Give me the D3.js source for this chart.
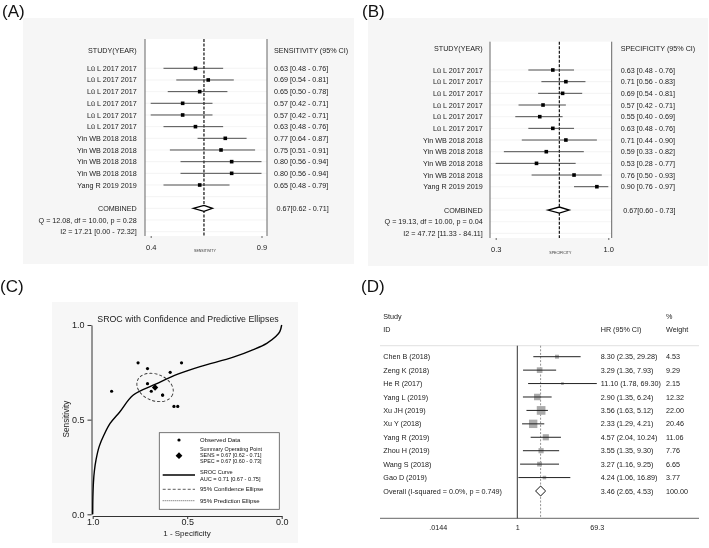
<!DOCTYPE html>
<html><head><meta charset="utf-8">
<script src="https://cdn.jsdelivr.net/npm/d3@7"></script>
<style>body{margin:0;background:#fff}svg{display:block;will-change:transform}text{font-family:"Liberation Sans",Arial,sans-serif}</style>
</head><body><svg id="c" width="709" height="548"></svg>
<script>
// ---------------- DATA ----------------
const studiesAB = ["Lü L 2017 2017","Lü L 2017 2017","Lü L 2017 2017","Lü L 2017 2017","Lü L 2017 2017","Lü L 2017 2017",
  "Yin WB 2018 2018","Yin WB 2018 2018","Yin WB 2018 2018","Yin WB 2018 2018","Yang R 2019 2019"];
const sensEst = [0.63,0.69,0.65,0.57,0.57,0.63,0.77,0.75,0.80,0.80,0.65];
const sensLo  = [0.48,0.54,0.50,0.42,0.42,0.48,0.64,0.51,0.56,0.56,0.48];
const sensHi  = [0.76,0.81,0.78,0.71,0.71,0.76,0.87,0.91,0.94,0.94,0.79];
const specEst = [0.63,0.71,0.69,0.57,0.55,0.63,0.71,0.59,0.53,0.76,0.90];
const specLo  = [0.48,0.56,0.54,0.42,0.40,0.48,0.44,0.33,0.28,0.50,0.76];
const specHi  = [0.76,0.83,0.81,0.71,0.69,0.76,0.90,0.82,0.77,0.93,0.97];
const pooledSens = [0.67,0.62,0.71];
const pooledSpec = [0.67,0.60,0.73];
const statsSens = ["Q = 12.08, df = 10.00, p =  0.28","I2 = 17.21 [0.00 - 72.32]"];
const statsSpec = ["Q = 19.13, df = 10.00, p =  0.04","I2 = 47.72 [11.33 - 84.11]"];
const ticksSens = [0.42,0.94];
const ticksSpec = [0.28,0.97];

// SROC (specificity, sensitivity)
const srocCurve = [[1.0,0.0],[0.999,0.09],[0.996,0.17],[0.991,0.23],[0.982,0.29],[0.965,0.36],[0.94,0.42],[0.908,0.48],
  [0.856,0.542],[0.785,0.63],[0.661,0.69],[0.55,0.74],[0.432,0.78],[0.256,0.83],[0.15,0.87],[0.079,0.903],[0.03,0.94],[0.01,0.965],[0.0,1.0]];
const summaryPoint = [0.67,0.67];
const confEllipse = {spec:0.67, sens:0.67, a:0.10, b:0.07, angle:22};
const cTicks = [0,0.5,1];
const legendC = [["Observed Data"],["Summary Operating Point","SENS = 0.67 [0.62 - 0.71]","SPEC = 0.67 [0.60 - 0.73]"],
  ["SROC Curve","AUC = 0.71 [0.67 - 0.75]"],["95% Confidence Ellipse"],["95% Prediction Ellipse"]];

const studiesD = ["Chen B (2018)","Zeng K (2018)","He R (2017)","Yang L (2019)","Xu JH (2019)","Xu Y (2018)","Yang R (2019)","Zhou H (2019)","Wang S (2018)","Gao D (2019)"];
const hrD = [8.30,3.29,11.10,2.90,3.56,2.33,4.57,3.55,3.27,4.24];
const loD = [2.35,1.36,1.78,1.35,1.63,1.29,2.04,1.35,1.16,1.06];
const hiD = [29.28,7.93,69.30,6.24,5.12,4.21,10.24,9.30,9.25,16.89];
const weightD = [4.53,9.29,2.15,12.32,22.00,20.46,11.06,7.76,6.65,3.77];
const overallD = [3.46,2.65,4.53];
const overallLabel = "Overall  (I-squared = 0.0%, p = 0.749)";
const tickValuesD = [0.0144,1,69.3];
const tickLabelsD = [".0144","1","69.3"];

// ---------------- DRAW ----------------
const svg = d3.select("#c");
const f2 = d3.format(".2f");
const FS = 7.2;

function txt(g,x,y,s,opt={}){
  return g.append("text").attr("x",x).attr("y",y).attr("dy","0.35em")
    .attr("font-size",opt.size||FS).attr("text-anchor",opt.anchor||"start").attr("fill",opt.fill||"#1a1a1a").text(s);
}

function forest(o){
  const g = svg.append("g");
  g.append("rect").attr("x",o.bg[0]).attr("y",o.bg[1]).attr("width",o.bg[2]).attr("height",o.bg[3]).attr("fill","#f6f6f6");
  g.append("rect").attr("x",o.px0).attr("y",o.py0).attr("width",o.px1-o.px0).attr("height",o.py1-o.py0).attr("fill","#fff");
  const x = d3.scaleLinear().domain([o.ticks[0],o.ticks[1]]).range(o.xRange);
  const y = d3.scaleLinear().domain([0,1]).range([o.y0,o.y0+o.gap]);
  g.selectAll("line.grid").data(d3.range(15)).join("line").attr("class","grid")
    .attr("x1",o.px0).attr("x2",o.px1).attr("y1",d=>y(d)).attr("y2",d=>y(d)).attr("stroke","#efefef").attr("stroke-width",0.7);
  [o.px0,o.px1].forEach(xx=>g.append("line").attr("x1",xx).attr("x2",xx).attr("y1",o.py0).attr("y2",o.py1).attr("stroke","#666").attr("stroke-width",1));
  g.append("line").attr("x1",x(o.pooled[0])).attr("x2",x(o.pooled[0])).attr("y1",o.py0).attr("y2",o.py1)
    .attr("stroke","#111").attr("stroke-width",1.2).attr("stroke-dasharray","3,1.5");
  const idx = d3.range(o.est.length);
  g.selectAll("line.ci").data(idx).join("line").attr("class","ci")
    .attr("x1",i=>x(o.lo[i])).attr("x2",i=>x(o.hi[i])).attr("y1",i=>y(i)).attr("y2",i=>y(i))
    .attr("stroke","#3c3c3c").attr("stroke-width",0.9);
  g.selectAll("rect.pt").data(idx).join("rect").attr("class","pt")
    .attr("x",i=>x(o.est[i])-1.8).attr("y",i=>y(i)-1.8).attr("width",3.6).attr("height",3.6).attr("fill","#000");
  idx.forEach(i=>{
    txt(g,o.labelX,y(i),o.labels[i],{anchor:"end"});
    txt(g,o.valueX,y(i),`${f2(o.est[i])} [${f2(o.lo[i])} - ${f2(o.hi[i])}]`);
  });
  txt(g,o.labelX,y(o.headerRow),"STUDY(YEAR)",{anchor:"end"});
  txt(g,o.valueX,y(o.headerRow),o.header);
  const cy = y(12);
  g.append("path").attr("d",`M${x(o.pooled[1])},${cy}L${x(o.pooled[0])},${cy-3}L${x(o.pooled[2])},${cy}L${x(o.pooled[0])},${cy+3}Z`)
    .attr("fill","#fff").attr("stroke","#000").attr("stroke-width",1.3);
  txt(g,o.labelX,cy,"COMBINED",{anchor:"end"});
  txt(g,o.valueX+2.5,cy,`${f2(o.pooled[0])}[${f2(o.pooled[1])} - ${f2(o.pooled[2])}]`);
  txt(g,o.labelX,y(13),o.stats[0],{anchor:"end"});
  txt(g,o.labelX,y(14),o.stats[1],{anchor:"end"});
  const ax = g.append("g").attr("transform",`translate(0,${o.py1})`)
    .call(d3.axisBottom(x).tickValues(o.ticks).tickFormat(d3.format(".1f")).tickSize(2).tickSizeOuter(0));
  ax.select(".domain").remove();
  ax.selectAll("line").attr("stroke","#666");
  ax.selectAll("text").attr("font-size",7.5).attr("y",8.5).attr("fill","#1a1a1a").attr("font-family","Liberation Sans, Arial, sans-serif");
  g.append("text").attr("x",x(o.pooled[0])+1).attr("y",o.py1+16).attr("font-size",3.6).attr("text-anchor","middle").attr("fill","#333").text(o.axisTitle);
}

forest({bg:[23,18,331,246],px0:145,px1:267,py0:39,py1:236,xRange:[150.7,261.5],ticks:ticksSens,y0:68.3,gap:11.67,headerRow:-1.55,
  labelX:136.7,valueX:274,labels:studiesAB,est:sensEst,lo:sensLo,hi:sensHi,pooled:pooledSens,stats:statsSens,
  header:"SENSITIVITY (95% CI)",axisTitle:"SENSITIVITY"});
forest({bg:[368,18,340,248],px0:490,px1:611.7,py0:41.7,py1:238,xRange:[495.7,608.3],ticks:ticksSpec,y0:70,gap:11.67,headerRow:-1.86,
  labelX:482.7,valueX:620.7,labels:studiesAB,est:specEst,lo:specLo,hi:specHi,pooled:pooledSpec,stats:statsSpec,
  header:"SPECIFICITY (95% CI)",axisTitle:"SPECIFICITY"});

// panel labels
[["(A)",2,11],["(B)",362,11],["(C)",0,286],["(D)",361,286]].forEach(([s,x,y])=>
  svg.append("text").attr("x",x).attr("y",y).attr("dy","0.35em").attr("font-size",17).attr("font-family","Lato, 'Open Sans', sans-serif").attr("fill","#111").text(s));

// ---------- Panel C ----------
(function(){
  const g = svg.append("g");
  g.append("rect").attr("x",52).attr("y",302).attr("width",246).attr("height",241).attr("fill","#f7f7f7");
  const x = d3.scaleLinear().domain([1,0]).range([92.7,281.7]);
  const y = d3.scaleLinear().domain([0,1]).range([514.3,325]);
  const ya = g.append("g").attr("transform","translate(91.5,0)")
    .call(d3.axisLeft(y).tickValues(cTicks).tickFormat(d3.format(".1f")).tickSize(4).tickSizeOuter(0));
  const xa = g.append("g").attr("transform","translate(0,516)")
    .call(d3.axisBottom(x).tickValues(cTicks).tickFormat(d3.format(".1f")).tickSize(3).tickSizeOuter(0));
  [ya,xa].forEach(a=>{a.selectAll("path,line").attr("stroke","#333");
    a.selectAll("text").attr("font-size",9).attr("fill","#222").attr("font-family","Liberation Sans, Arial, sans-serif");});
  xa.selectAll("text").attr("y",3);
  g.append("text").attr("x",187).attr("y",533.5).attr("dy","0.35em").attr("font-size",8).attr("text-anchor","middle").attr("fill","#222").text("1 - Specificity");
  g.append("text").attr("transform","translate(66,419) rotate(-90)").attr("dy","0.35em").attr("font-size",8.2).attr("text-anchor","middle").attr("fill","#222").text("Sensitivity");
  g.append("text").attr("x",188).attr("y",318.5).attr("dy","0.35em").attr("font-size",8.8).attr("text-anchor","middle").attr("fill","#222").text("SROC with Confidence and Predictive Ellipses");
  // ellipse
  const e = confEllipse;
  const cx = x(e.spec), cy = y(e.sens);
  g.append("ellipse").attr("cx",0).attr("cy",0).attr("rx",Math.abs(x(e.spec+e.a)-cx)).attr("ry",Math.abs(y(e.sens+e.b)-cy))
    .attr("transform",`translate(${cx},${cy}) rotate(${e.angle})`)
    .attr("fill","none").attr("stroke","#333").attr("stroke-width",0.9).attr("stroke-dasharray","3,2");
  // curve
  g.append("path").datum(srocCurve).attr("d",d3.line().x(d=>x(d[0])).y(d=>y(d[1])).curve(d3.curveCatmullRom.alpha(0.5)))
    .attr("fill","none").attr("stroke","#000").attr("stroke-width",1.4);
  // observed
  g.selectAll("circle.obs").data(d3.range(specEst.length)).join("circle").attr("class","obs")
    .attr("cx",i=>x(specEst[i])).attr("cy",i=>y(sensEst[i])).attr("r",1.6).attr("fill","#000");
  const dia = (px,py,s)=>`M${px-s},${py}L${px},${py-s}L${px+s},${py}L${px},${py+s}Z`;
  g.append("path").attr("d",dia(x(summaryPoint[0]),y(summaryPoint[1]),3.2)).attr("fill","#000");
  // legend
  const L = g.append("g");
  L.append("rect").attr("x",159.3).attr("y",432.7).attr("width",120).attr("height",76.6).attr("fill","#fff").attr("stroke","#555").attr("stroke-width",0.8);
  const lt = (xx,yy,s,fs)=>L.append("text").attr("x",xx).attr("y",yy).attr("dy","0.35em").attr("font-size",fs||6).attr("fill","#111").text(s);
  L.append("circle").attr("cx",179).attr("cy",440).attr("r",1.6).attr("fill","#000");
  lt(200,440,legendC[0][0]);
  L.append("path").attr("d",dia(179,455.7,3.4)).attr("fill","#000");
  legendC[1].forEach((s,i)=>lt(200,449.6+i*5.6,s,5.4));
  L.append("line").attr("x1",162.7).attr("x2",195).attr("y1",475).attr("y2",475).attr("stroke","#000").attr("stroke-width",1.3);
  legendC[2].forEach((s,i)=>lt(200,472.3+i*6.4,s,5.6));
  L.append("line").attr("x1",162.7).attr("x2",195).attr("y1",489.3).attr("y2",489.3).attr("stroke","#333").attr("stroke-width",0.8).attr("stroke-dasharray","3,2");
  lt(200,489.3,legendC[3][0]);
  L.append("line").attr("x1",162.7).attr("x2",195).attr("y1",500.7).attr("y2",500.7).attr("stroke","#333").attr("stroke-width",0.8).attr("stroke-dasharray","1,1");
  lt(200,500.7,legendC[4][0]);
})();

// ---------- Panel D ----------
(function(){
  const g = svg.append("g");
  const x = d3.scaleLog().domain([1,69.3]).range([517.3,596.8]);
  const y = d3.scaleLinear().domain([0,1]).range([356.7,370.13]);
  const top = 345.7, bot = 518.3;
  g.append("line").attr("x1",380).attr("x2",699).attr("y1",top).attr("y2",top).attr("stroke","#d8d8d8").attr("stroke-width",0.8);
  g.append("line").attr("x1",380).attr("x2",699).attr("y1",bot).attr("y2",bot).attr("stroke","#555").attr("stroke-width",0.9);
  g.append("line").attr("x1",x(1)).attr("x2",x(1)).attr("y1",top).attr("y2",bot).attr("stroke","#333").attr("stroke-width",1);
  g.append("line").attr("x1",x(overallD[0])).attr("x2",x(overallD[0])).attr("y1",top).attr("y2",bot)
    .attr("stroke","#777").attr("stroke-width",0.8).attr("stroke-dasharray","2,1.6");
  txt(g,383.3,316.7,"Study"); txt(g,383.3,329.3,"ID");
  txt(g,600.7,329.3,"HR (95% CI)"); txt(g,666,316.7,"%"); txt(g,666,329.3,"Weight");
  const idx = d3.range(studiesD.length);
  g.selectAll("rect.w").data(idx).join("rect").attr("class","w")
    .attr("x",i=>x(hrD[i])-0.925*Math.sqrt(weightD[i])).attr("y",i=>y(i)-0.925*Math.sqrt(weightD[i]))
    .attr("width",i=>1.85*Math.sqrt(weightD[i])).attr("height",i=>1.85*Math.sqrt(weightD[i])).attr("fill","#aaaaaa");
  g.selectAll("line.ci").data(idx).join("line").attr("class","ci")
    .attr("x1",i=>x(loD[i])).attr("x2",i=>x(hiD[i])).attr("y1",i=>y(i)).attr("y2",i=>y(i)).attr("stroke","#222").attr("stroke-width",1);
  const f2 = d3.format(".2f");
  idx.forEach(i=>{
    txt(g,383.3,y(i),studiesD[i]);
    txt(g,600.7,y(i),`${f2(hrD[i])} (${f2(loD[i])}, ${f2(hiD[i])})`);
    txt(g,666,y(i),f2(weightD[i]));
  });
  const oy = y(10);
  g.append("path").attr("d",`M${x(overallD[1])},${oy}L${x(overallD[0])},${oy-5}L${x(overallD[2])},${oy}L${x(overallD[0])},${oy+5}Z`)
    .attr("fill","#fff").attr("stroke","#111").attr("stroke-width",1);
  txt(g,383.3,oy,overallLabel);
  txt(g,600.7,oy,`${f2(overallD[0])} (${f2(overallD[1])}, ${f2(overallD[2])})`);
  txt(g,666,oy,"100.00");
  const ax = g.append("g").attr("transform",`translate(0,${bot})`)
    .call(d3.axisBottom(x).tickValues(tickValuesD).tickFormat((d,i)=>tickLabelsD[i]).tickSize(0).tickSizeOuter(0));
  ax.select(".domain").remove();
  ax.selectAll("text").attr("font-size",7.2).attr("y",7).attr("fill","#1a1a1a").attr("font-family","Liberation Sans, Arial, sans-serif");
})();
</script></body></html>
